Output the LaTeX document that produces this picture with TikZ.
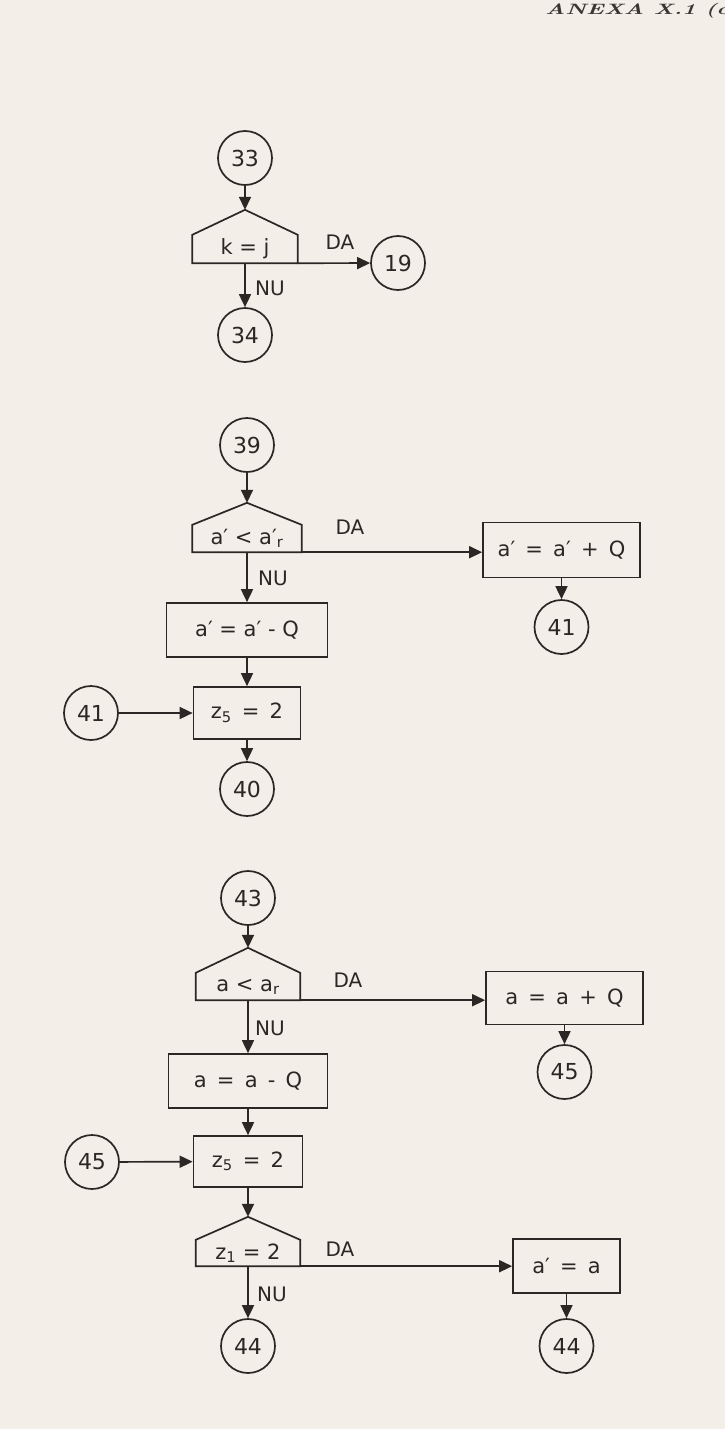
\documentclass[tikz,border=0pt]{standalone}
\usepackage{fontspec}
\newfontfamily\dej{DejaVu Sans}
\usetikzlibrary{arrows.meta,calc}
\definecolor{inkc}{HTML}{2B2724}
\definecolor{paper}{HTML}{F3EEE7}
\definecolor{headc}{HTML}{3A3632}
\newcommand\decoutline[1]{\draw[ink, line join=miter] (#1.south west) -- (#1.north west) -- (#1top) -- (#1.north east) -- (#1.south east) -- cycle;}
\tikzset{
  ink/.style={draw=inkc, line width=1.7pt},
  conn/.style={circle, ink, minimum size=54pt, inner sep=0pt, text=inkc, font=\dej\fontsize{22}{22}\selectfont},
  procbox/.style={rectangle, ink, inner sep=0pt, text=inkc, font=\dej\fontsize{21}{21}\selectfont},
  decbox/.style={rectangle, inner sep=0pt, text=inkc, font=\dej\fontsize{21}{21}\selectfont},
  lbl/.style={inner sep=0pt, text=inkc, font=\dej\fontsize{20}{20}\selectfont},
  arr/.style={ink, -{Triangle[length=13pt,width=12pt]}},
  flow/.style={ink}
}
\begin{document}
\begin{tikzpicture}[x=1pt,y=-1pt]
\fill[paper] (0,0) rectangle (725,1429);
\useasboundingbox (0,0) rectangle (725,1429);

% header
\node[anchor=base west, inner sep=0pt, text=headc, font=\fontsize{15}{15}\selectfont\bfseries\itshape] (head) at (545,15) {\scalebox{1.55}[1]{ANEXA X.1 (co}};

% ---------- block 1 ----------
\node[conn] (c33) at (245,158) {33};
\node[decbox, minimum width=105pt, minimum height=28pt] (d1) at (245,249) {k = j};
\coordinate (d1top) at ($(d1.north)+(0,-25)$);
\decoutline{d1}
\node[conn] (c19) at (398,263) {19};
\node[conn] (c34) at (245,335) {34};
\draw[arr] (c33) -- (d1top);
\draw[arr] (d1.south east) -- (c19);
\draw[arr] (d1.south) -- (c34);
\node[lbl] (da1) at (340,242) {DA};
\node[lbl] (nu1) at (270,288) {NU};

% ---------- block 2 ----------
\node[conn] (c39) at (247,445) {39};
\node[decbox, minimum width=109pt, minimum height=27pt] (d2) at (247,538.5) {a′ < a′\textsubscript{r}};
\coordinate (d2top) at ($(d2.north)+(0,-22)$);
\decoutline{d2}
\node[procbox, minimum width=157pt, minimum height=55pt] (b1) at (561.5,550) {a′ \,=\, a′ \,+\, Q};
\node[conn] (c41r) at (561.5,627) {41};
\node[procbox, minimum width=161pt, minimum height=54pt] (b2) at (247,630) {a′ = a′ - Q};
\node[procbox, minimum width=107pt, minimum height=52pt] (b3) at (247,713) {z\textsubscript{5} \,=\, 2};
\node[conn] (c41l) at (91,713) {41};
\node[conn] (c40) at (247,789) {40};
\draw[arr] (c39) -- (d2top);
\draw[arr] (d2.south east) -- (d2.south east -| b1.west);
\draw[arr] (b1) -- (c41r);
\draw[arr] (d2.south) -- (b2);
\draw[arr] (b2) -- (b3);
\draw[arr] (c41l) -- (b3);
\draw[arr] (b3) -- (c40);
\node[lbl] (da2) at (350,527) {DA};
\node[lbl] (nu2) at (273,578) {NU};

% ---------- block 3 ----------
\node[conn] (c43) at (248,898) {43};
\node[decbox, minimum width=104pt, minimum height=27pt] (d3) at (248,986.5) {a < a\textsubscript{r}};
\coordinate (d3top) at ($(d3.north)+(0,-25)$);
\decoutline{d3}
\node[procbox, minimum width=157pt, minimum height=53pt] (b4) at (564.5,998) {a \,=\, a \,+\, Q};
\node[conn] (c45r) at (564.5,1072) {45};
\node[procbox, minimum width=159pt, minimum height=54pt] (b5) at (248,1081) {a \,=\, a \,-\, Q};
\node[procbox, minimum width=109pt, minimum height=51pt] (b6) at (248,1161.5) {z\textsubscript{5} \,=\, 2};
\node[conn] (c45l) at (92,1162) {45};
\node[decbox, minimum width=104pt, minimum height=26pt] (d4) at (248,1253) {z\textsubscript{1} = 2};
\coordinate (d4top) at ($(d4.north)+(0,-23)$);
\decoutline{d4}
\node[procbox, minimum width=107pt, minimum height=54pt] (b7) at (566.5,1266) {a′ \,=\, a};
\node[conn] (c44r) at (566.5,1346) {44};
\node[conn] (c44l) at (248,1346) {44};
\draw[arr] (c43) -- (d3top);
\draw[arr] (d3.south east) -- (d3.south east -| b4.west);
\draw[arr] (b4) -- (c45r);
\draw[arr] (d3.south) -- (b5);
\draw[arr] (b5) -- (b6);
\draw[arr] (c45l) -- (b6);
\draw[arr] (b6) -- (d4top);
\draw[arr] (d4.south east) -- (d4.south east -| b7.west);
\draw[arr] (b7) -- (c44r);
\draw[arr] (d4.south) -- (c44l);
\node[lbl] (da3) at (348,980) {DA};
\node[lbl] (nu3) at (270,1028) {NU};
\node[lbl] (da4) at (340,1249) {DA};
\node[lbl] (nu4) at (272,1294) {NU};
\end{tikzpicture}
\end{document}
